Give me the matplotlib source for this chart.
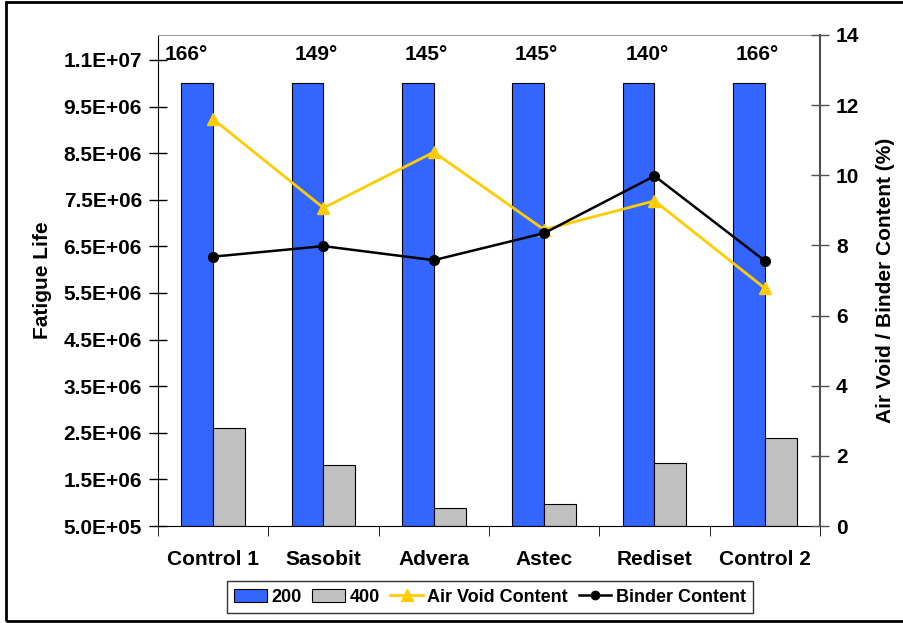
import matplotlib.pyplot as plt
import numpy as np
from matplotlib.lines import Line2D
from matplotlib.patches import Patch, Rectangle

plt.rcParams['font.family'] = ['Liberation Sans', 'DejaVu Sans']
plt.rcParams['font.weight'] = 'bold'

# dados
mixes = ["Control 1", "Sasobit", "Advera", "Astec", "Rediset", "Control 2"]
temps = ["166°", "149°", "145°", "145°", "140°", "166°"]
life_200 = [1.0e7, 1.0e7, 1.0e7, 1.0e7, 1.0e7, 1.0e7]
life_400 = [2.6e6, 1.81e6, 8.9e5, 9.7e5, 1.85e6, 2.39e6]
air_void = [11.6, 9.07, 10.66, 8.45, 9.27, 6.78]
binder = [7.68, 7.98, 7.58, 8.35, 9.98, 7.56]
left_ticks = [5e5, 1.5e6, 2.5e6, 3.5e6, 4.5e6, 5.5e6, 6.5e6, 7.5e6, 8.5e6, 9.5e6, 1.05e7]
left_labels = ["5.0E+05", "1.5E+06", "2.5E+06", "3.5E+06", "4.5E+06", "5.5E+06",
               "6.5E+06", "7.5E+06", "8.5E+06", "9.5E+06", "1.1E+07"]
right_ticks = [0, 2, 4, 6, 8, 10, 12, 14]

fs = 15

fig = plt.figure(figsize=(9.04, 6.23), dpi=100)
# moldura externa
fig.patches.append(Rectangle((6 / 904, 2 / 623), 910 / 904, 619 / 623, transform=fig.transFigure,
                             fill=False, edgecolor="black", linewidth=2))

ax = fig.add_axes([158 / 904, 97 / 623, 662 / 904, 491 / 623])
x = np.arange(len(mixes))
w = 0.29
ax.bar(x - w / 2, np.array(life_200) - 5e5, w, bottom=5e5, color="#3366FF", edgecolor="black", linewidth=0.8, zorder=2)
ax.bar(x + w / 2, np.array(life_400) - 5e5, w, bottom=5e5, color="#C0C0C0", edgecolor="black", linewidth=0.8, zorder=2)
ax.set_xlim(-0.5, len(mixes) - 0.5)
ax.set_ylim(5e5, 1.1036e7)
ax.set_yticks(left_ticks)
ax.set_yticklabels(left_labels, fontsize=fs, fontweight="bold")
ax.set_xticks(x)
ax.set_xticklabels(mixes, fontsize=fs, fontweight="bold")
ax.tick_params(axis="x", length=0, pad=17)
ax.set_xticks(np.arange(len(mixes) + 1) - 0.5, minor=True)
ax.tick_params(axis="x", which="minor", length=7, direction="out")
ax.tick_params(axis="y", direction="inout", length=13, width=1, pad=5)
ax.set_ylabel("Fatigue Life", fontsize=fs, fontweight="bold", labelpad=8)
ax.spines["top"].set_color("#A0A0A0")
ax.spines["right"].set_visible(False)

ax2 = ax.twinx()
ax2.plot(x, air_void, color="#FFCC00", marker="^", markersize=8, linewidth=2, zorder=3)
ax2.plot(x, binder, color="black", marker="o", markersize=7, linewidth=1.8, zorder=4)
ax2.set_ylim(0, 14)
ax2.set_yticks(right_ticks)
ax2.set_yticklabels([str(t) for t in right_ticks], fontsize=fs, fontweight="bold")
ax2.tick_params(axis="y", direction="inout", length=13, width=1, pad=5, color="#505050")
ax2.spines["right"].set_color("#505050")
ax2.spines["right"].set_linewidth(1.5)
ax2.spines["top"].set_visible(False)
ax2.spines["left"].set_visible(False)
ax2.spines["bottom"].set_visible(False)
ax2.set_ylabel("Air Void / Binder Content (%)", fontsize=fs, fontweight="bold", labelpad=12)

# temperaturas acima das barras
for i, t in enumerate(temps):
    xi = i - 0.07 if i > 0 else -0.24
    ax2.text(xi, 13.43, t, ha="center", va="center", fontsize=fs, fontweight="bold")

handles = [Patch(facecolor="#3366FF", edgecolor="black", linewidth=0.8),
           Patch(facecolor="#C0C0C0", edgecolor="black", linewidth=0.8),
           Line2D([], [], color="#FFCC00", marker="^", markersize=8, linewidth=2),
           Line2D([], [], color="black", marker="o", markersize=6, linewidth=1.8)]
leg = fig.legend(handles, ["200", "400", "Air Void Content", "Binder Content"], ncol=4,
                 loc="center", bbox_to_anchor=(490 / 904, 1 - 597 / 623), fontsize=13,
                 frameon=True, fancybox=False, edgecolor="black", handlelength=1.8,
                 handletextpad=0.25, columnspacing=0.6, borderpad=0.4)
leg.get_frame().set_linewidth(1)
for txt in leg.get_texts():
    txt.set_fontweight("bold")

fig.savefig("out.png", dpi=100)
